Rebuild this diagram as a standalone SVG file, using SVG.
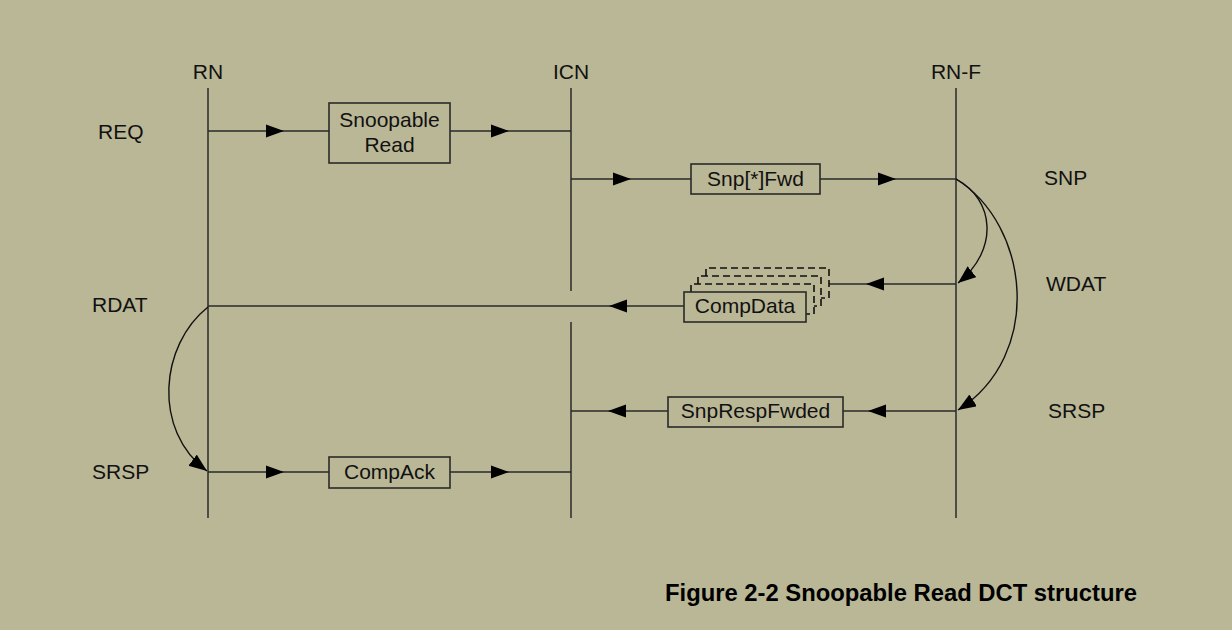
<svg xmlns="http://www.w3.org/2000/svg" xmlns:xlink="http://www.w3.org/1999/xlink" width="1232" height="630" viewBox="0 0 1232 630">
<style>
.t{font-family:"Liberation Sans",Arial,sans-serif;font-size:21px;fill:#111;}
.c{text-anchor:middle;}
.ln{stroke:#2a2a2a;stroke-width:1.5;fill:none;}
.box{fill:#BAB796;stroke:#2a2a2a;stroke-width:1.6;}
.dash{fill:none;stroke:#111;stroke-width:1.6;stroke-dasharray:7,4;}
.cv{fill:none;stroke:#111;stroke-width:1.4;}
.ttl{font-family:"Liberation Sans",Arial,sans-serif;font-size:23.5px;font-weight:bold;fill:#000;}
</style>
<defs>
<path id="ah" d="M0,0 L-18,-6.5 L-18,6.5 z" fill="#000"/>
<marker id="m" markerUnits="userSpaceOnUse" markerWidth="20" markerHeight="16" refX="18" refY="7" orient="auto">
<path d="M0,0 L18,7 L0,14 z" fill="#000"/>
</marker>
</defs>
<rect width="1232" height="630" fill="#BAB796"/>

<g id="lifelines">
<g id="RN"><text class="t c" x="208" y="79">RN</text><line class="ln" x1="208" y1="88" x2="208" y2="518"/></g>
<g id="ICN"><text class="t c" x="571" y="79">ICN</text><line class="ln" x1="571" y1="88" x2="571" y2="291"/><line class="ln" x1="571" y1="322" x2="571" y2="518"/></g>
<g id="RN-F"><text class="t c" x="956" y="79">RN-F</text><line class="ln" x1="956" y1="88" x2="956" y2="518"/></g>
</g>

<g id="channel-labels">
<text class="t" x="98" y="139">REQ</text>
<text class="t" x="92" y="312">RDAT</text>
<text class="t" x="92" y="479">SRSP</text>
<text class="t" x="1044" y="185">SNP</text>
<text class="t" x="1046" y="291">WDAT</text>
<text class="t" x="1048" y="418">SRSP</text>
</g>

<g id="connectors">
<line class="ln" x1="208" y1="131" x2="329" y2="131"/>
<use xlink:href="#ah" transform="translate(284,131)"/>
<line class="ln" x1="450" y1="131" x2="571" y2="131"/>
<use xlink:href="#ah" transform="translate(509,131)"/>

<line class="ln" x1="571" y1="179" x2="691" y2="179"/>
<use xlink:href="#ah" transform="translate(631,179)"/>
<line class="ln" x1="820" y1="179" x2="956" y2="179"/>
<use xlink:href="#ah" transform="translate(896,179)"/>

<line class="ln" x1="829" y1="284" x2="956" y2="284"/>
<use xlink:href="#ah" transform="translate(866,284) rotate(180)"/>

<line class="ln" x1="208" y1="306" x2="684" y2="306"/>
<use xlink:href="#ah" transform="translate(609,306) rotate(180)"/>

<line class="ln" x1="843" y1="411" x2="956" y2="411"/>
<use xlink:href="#ah" transform="translate(868,411) rotate(180)"/>
<line class="ln" x1="571" y1="411" x2="668" y2="411"/>
<use xlink:href="#ah" transform="translate(608,411) rotate(180)"/>

<line class="ln" x1="208" y1="472" x2="329" y2="472"/>
<use xlink:href="#ah" transform="translate(284,472)"/>
<line class="ln" x1="450" y1="472" x2="571" y2="472"/>
<use xlink:href="#ah" transform="translate(509,472)"/>

<path class="cv" d="M956,179 C995,200 999,250 958,283" marker-end="url(#m)"/>
<path class="cv" d="M956,179 C1030,225 1044,355 958,410" marker-end="url(#m)"/>
<path class="cv" d="M208,307 C160,345 152,430 207,471" marker-end="url(#m)"/>
</g>

<g id="SnoopableRead">
<rect class="box" x="329" y="103" width="121" height="60"/>
<text class="t c" x="389.5" y="127">Snoopable</text>
<text class="t c" x="389.5" y="152">Read</text>
</g>

<g id="SnpFwd">
<rect class="box" x="691" y="164" width="129" height="30"/>
<text class="t c" x="755.5" y="186">Snp[*]Fwd</text>
</g>

<g id="CompData">
<path class="dash" d="M706,276 V268 H829 V298 H821"/>
<path class="dash" d="M698,284 V276 H821 V306 H814"/>
<path class="dash" d="M691,292 V284 H814 V314 H806"/>
<rect class="box" x="684" y="292" width="122" height="30"/>
<text class="t c" x="745" y="313">CompData</text>
</g>

<g id="SnpRespFwded">
<rect class="box" x="668" y="397" width="175" height="30"/>
<text class="t c" x="755.5" y="418">SnpRespFwded</text>
</g>

<g id="CompAck">
<rect class="box" x="329" y="457" width="121" height="31"/>
<text class="t c" x="389.5" y="479">CompAck</text>
</g>

<text class="ttl" x="665" y="601" textLength="472" lengthAdjust="spacingAndGlyphs">Figure 2-2 Snoopable Read DCT structure</text>
</svg>
